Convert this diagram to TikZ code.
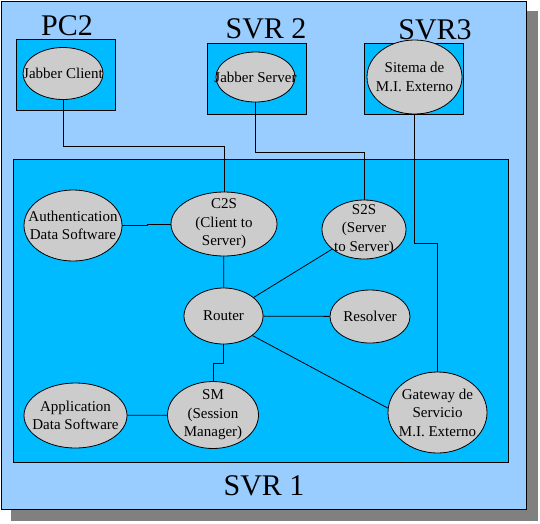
\documentclass[tikz,border=0pt]{standalone}
\usepackage{fontspec}
\setmainfont{Liberation Serif}
\newfontfamily\diagfont{Liberation Serif}
\usetikzlibrary{shapes.geometric}
\definecolor{skyback}{RGB}{153,204,255}
\definecolor{hostblue}{RGB}{0,187,255}
\definecolor{procgray}{RGB}{204,204,204}
\definecolor{shadowgray}{RGB}{128,128,128}
\begin{document}
\begin{tikzpicture}[x=1pt,y=-1pt,line width=0.8pt,
	proc/.style={ellipse,draw,fill=procgray,inner sep=0pt},
	proctext/.style={align=center,font=\diagfont\fontsize{15}{18.5}\selectfont},
	host/.style={draw,fill=hostblue},
	hostname/.style={anchor=base,font=\diagfont\fontsize{30}{36}\selectfont}]
	\useasboundingbox (0,0) rectangle (540,523);
	% frame of the whole network
	\fill[shadowgray] (11,11) rectangle (538,521);
	\filldraw[fill=skyback] (1,1) rectangle (526,509);
	\path (16,39) coordinate (pcA) + (99,71) coordinate (pcB)
	(207,43) coordinate (svrtwoA) + (99,71) coordinate (svrtwoB)
	(364,43) coordinate (svrthreeA) + (99,71) coordinate (svrthreeB)
	(13,159) coordinate (svroneA) + (495,303) coordinate (svroneB);
	\filldraw[host] (pcA) rectangle (pcB);
	\filldraw[host] (svrtwoA) rectangle (svrtwoB);
	\filldraw[host] (svrthreeA) rectangle (svrthreeB);
	\filldraw[host] (svroneA) rectangle (svroneB);
	\node[hostname] (pcname) at (67,35) {PC2};
	\node[hostname] (svrtwoname) at (266,38) {SVR 2};
	\node[hostname] (svrthreename) at (435,39) {SVR3};
	\node[hostname] (svronename) at (264,495) {SVR 1};
	% processes
	\node[proc,minimum width=80,minimum height=52,label={[proctext]center:Jabber Client}] (client) at (63,73.5) {};
	\node[proc,minimum width=79,minimum height=50,label={[proctext]center:Jabber Server}] (jserver) at (255.5,77) {};
	\node[proc,minimum width=95,minimum height=74,label={[proctext]center:Sitema de\\M.I. Externo}] (extsys) at (414.5,77) {};
	\node[proc,minimum width=98,minimum height=71,label={[proctext]center:Authentication\\Data Software}] (auth) at (73,225.5) {};
	\node[proc,minimum width=106,minimum height=64,label={[proctext]center:C2S\\(Client to\\Server)}] (c2s) at (224,224) {};
	\node[proc,minimum width=84,minimum height=59,label={[proctext]center:S2S\\(Server\\to Server)}] (s2s) at (364,229.5) {};
	\node[proc,minimum width=79,minimum height=56,label={[proctext]center:Router}] (router) at (223.5,316) {};
	\node[proc,minimum width=80,minimum height=53,label={[proctext]center:Resolver}] (resolver) at (370,316.5) {};
	\node[proc,minimum width=103,minimum height=65,label={[proctext]center:Application\\Data Software}] (app) at (75.5,415.5) {};
	\node[proc,minimum width=91,minimum height=67,label={[proctext]center:SM\\(Session\\Manager)}] (sm) at (213,415) {};
	\node[proc,minimum width=99,minimum height=81,label={[proctext]center:Gateway de\\Servicio\\M.I. Externo}] (gateway) at (437.5,412.5) {};
	% links
	\draw (client.south) -- ++(0,46) -| (c2s.north);
	\draw (jserver.south) -- ++(0,50) -| (s2s.north);
	\draw (extsys.south) -- ++(0,129) -| (gateway.north);
	\draw (auth.east) -- ++(25,0) |- (c2s.west);
	\draw (c2s) -- (router);
	\draw (router) -- (s2s);
	\draw (router) -- (resolver);
	\draw (router.-34) -- (gateway.175);
	\draw (router.south) -- ++(0,19) -| (sm.north);
	\draw (app) -- (sm);
\end{tikzpicture}
\end{document}
